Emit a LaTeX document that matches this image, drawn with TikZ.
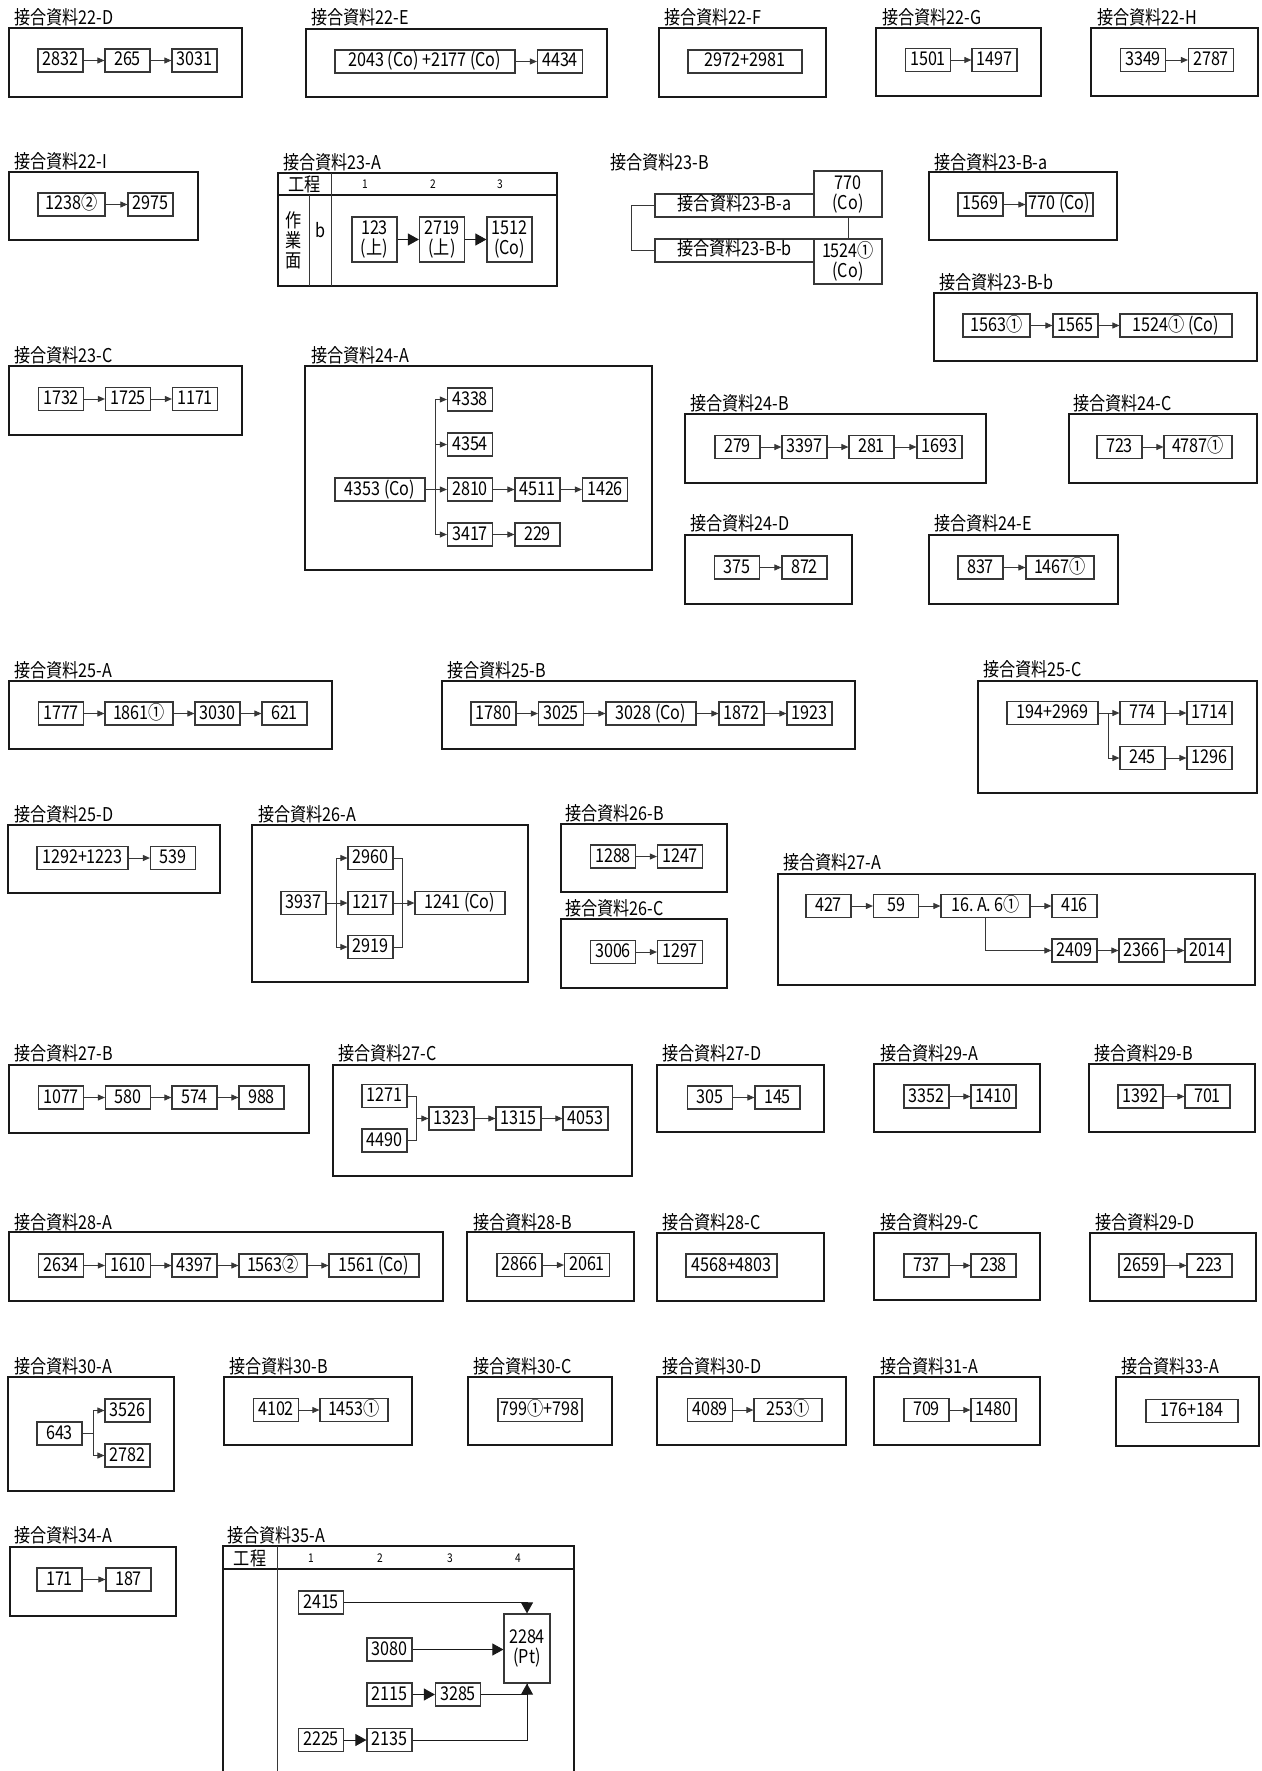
\documentclass[tikz,border=0pt]{standalone}
\usepackage{fontspec}
\setmainfont{Noto Sans CJK JP}[FakeStretch=0.85]
\usepackage{tikz}
\usetikzlibrary{arrows.meta}
\definecolor{ink}{RGB}{25,25,25}
\definecolor{boxline}{RGB}{55,55,55}
\newcommand{\jpfont}{\fontsize{19}{20}\selectfont}
\newcommand{\hdfont}{\fontsize{12}{13}\selectfont}
\tikzset{
  frame/.style={draw=ink, line width=2pt},
  numbox/.style={rectangle, draw=boxline, line width=1.2pt,
    minimum width=45pt, minimum height=23pt, inner sep=1pt,
    text height=14pt, text depth=3pt, font=\jpfont},
  tallbox/.style={rectangle, draw=boxline, line width=1.2pt,
    minimum width=45pt, minimum height=45pt, inner sep=1pt,
    align=center, font=\jpfont},
  title/.style={anchor=west, inner sep=0pt, font=\jpfont},
  arrow/.style={-{Triangle[length=7pt,width=6pt]}, line width=0.9pt, color=boxline},
  bigarrow/.style={-{Triangle[length=11pt,width=12pt]}, line width=0.9pt, color=ink},
  line/.style={line width=0.9pt, color=boxline}
}

\begin{document}
\begin{tikzpicture}[x=1pt, y=-1pt]
  \fill[white] (0,0) rectangle (1261,1771);
  \useasboundingbox (0,0) rectangle (1261,1771);

  % 22-D
  \node[title] at (14,17.5) {接合資料22-D};
  \draw[frame] (9,28) rectangle (242,97);
  \node[numbox] (n22d1) at (60.5,60.5) {2832};
  \node[numbox] (n22d2) at (127.5,60.5) {265};
  \node[numbox] (n22d3) at (194.5,60.5) {3031};
  \foreach \a/\b in {n22d1/n22d2, n22d2/n22d3} \draw[arrow] (\a) -- (\b);

  % 22-E
  \node[title] at (311,17.5) {接合資料22-E};
  \draw[frame] (306,29) rectangle (607,97);
  \node[numbox, minimum width=180pt] (n22e1) at (425,61.5) {2043\,(Co)\,+2177\,(Co)};
  \node[numbox] (n22e2) at (560,61.5) {4434};
  \draw[arrow] (n22e1) -- (n22e2);

  % 22-F
  \node[title] at (664,17) {接合資料22-F};
  \draw[frame] (659,28) rectangle (826,97);
  \node[numbox, minimum width=114pt] (n22f1) at (745,61.5) {2972+2981};

  % 22-G
  \node[title] at (882,17) {接合資料22-G};
  \draw[frame] (876,28) rectangle (1041,96);
  \node[numbox] (n22g1) at (928,60) {1501};
  \node[numbox] (n22g2) at (994.5,60) {1497};
  \draw[arrow] (n22g1) -- (n22g2);

  % 22-H
  \node[title] at (1097,17) {接合資料22-H};
  \draw[frame] (1091,28) rectangle (1258,96);
  \node[numbox] (n22h1) at (1143,60) {3349};
  \node[numbox] (n22h2) at (1211,60) {2787};
  \draw[arrow] (n22h1) -- (n22h2);

  % 22-I
  \node[title] at (14,161) {接合資料22-I};
  \draw[frame] (9,172) rectangle (198,240);
  \node[numbox, minimum width=67pt] (n22i1) at (71.5,204.5) {1238②};
  \node[numbox] (n22i2) at (150.5,204.5) {2975};
  \draw[arrow] (n22i1) -- (n22i2);

  % 23-A (table)
  \node[title] at (283,162) {接合資料23-A};
  \draw[frame] (278,173) rectangle (557,286);
  \draw[frame] (278,195) -- (557,195);
  \draw[line] (331,173) -- (331,286);
  \draw[line] (309,195) -- (309,286);
  \node[font=\jpfont, inner sep=0pt] (h23a) at (304.5,184) {工程};
  \foreach \i/\x in {1/365, 2/433, 3/500}
    \node[font=\hdfont, inner sep=0pt] (h23a\i) at (\x,184) {\i};
  \node[font=\fontsize{19}{20}\selectfont, align=center, inner sep=0pt] (s23a) at (294,240) {作\\業\\面};
  \node[font=\jpfont, inner sep=0pt] (b23a) at (320,230) {b};
  \node[tallbox] (n23a1) at (374.5,239.5) {123\\(上)};
  \node[tallbox] (n23a2) at (442,239.5) {2719\\(上)};
  \node[tallbox] (n23a3) at (509.5,239.5) {1512\\(Co)};
  \foreach \a/\b in {n23a1/n23a2, n23a2/n23a3} \draw[bigarrow] (\a) -- (\b);

  % 23-B
  \node[title] at (610,162) {接合資料23-B};
  \node[tallbox, minimum width=68pt, minimum height=46pt] (n23b0) at (848,194) {770\\(Co)};
  \node[numbox, minimum width=159pt] (n23ba) at (734.5,205.5) {接合資料23-B-a};
  \node[numbox, minimum width=159pt] (n23bb) at (734.5,250.5) {接合資料23-B-b};
  \node[tallbox, minimum width=68pt] (n23b1) at (848,261.5) {1524①\\(Co)};
  \draw[line] (n23b0) -- (n23b1);
  \draw[line] (n23ba.west) -- ++(-23,0) |- (n23bb.west);

  % 23-B-a
  \node[title] at (934,162) {接合資料23-B-a};
  \draw[frame] (929,172) rectangle (1117,240);
  \node[numbox] (n23ba1) at (980.5,204.5) {1569};
  \node[numbox, minimum width=67pt] (n23ba2) at (1059.5,204.5) {770\,(Co)};
  \draw[arrow] (n23ba1) -- (n23ba2);

  % 23-B-b
  \node[title] at (939,282) {接合資料23-B-b};
  \draw[frame] (934,293) rectangle (1257,361);
  \node[numbox, minimum width=67pt] (n23bb1) at (996.5,325.5) {1563①};
  \node[numbox] (n23bb2) at (1075.5,325.5) {1565};
  \node[numbox, minimum width=112pt] (n23bb3) at (1176,325.5) {1524①\,(Co)};
  \foreach \a/\b in {n23bb1/n23bb2, n23bb2/n23bb3} \draw[arrow] (\a) -- (\b);

  % 23-C
  \node[title] at (14,355) {接合資料23-C};
  \draw[frame] (9,366) rectangle (242,435);
  \node[numbox] (n23c1) at (61,399) {1732};
  \node[numbox] (n23c2) at (128,399) {1725};
  \node[numbox] (n23c3) at (195,399) {1171};
  \foreach \a/\b in {n23c1/n23c2, n23c2/n23c3} \draw[arrow] (\a) -- (\b);

  % 24-A
  \node[title] at (311,355) {接合資料24-A};
  \draw[frame] (305,366) rectangle (652,570);
  \node[numbox, minimum width=90pt] (n24a0) at (380,489.5) {4353\,(Co)};
  \node[numbox] (n24a1) at (470,399.5) {4338};
  \node[numbox] (n24a2) at (470,444.5) {4354};
  \node[numbox] (n24a3) at (470,489.5) {2810};
  \node[numbox] (n24a4) at (537.5,489.5) {4511};
  \node[numbox] (n24a5) at (605,489.5) {1426};
  \node[numbox] (n24a6) at (470,534.5) {3417};
  \node[numbox] (n24a7) at (537.5,534.5) {229};
  \coordinate (j24a) at (435,489.5);
  \draw[line] (n24a0) -- (j24a);
  \foreach \t in {n24a1, n24a2, n24a3, n24a6} \draw[arrow] (j24a) |- (\t);
  \foreach \a/\b in {n24a3/n24a4, n24a4/n24a5, n24a6/n24a7} \draw[arrow] (\a) -- (\b);

  % 24-B
  \node[title] at (690,403) {接合資料24-B};
  \draw[frame] (685,414) rectangle (986,483);
  \node[numbox] (n24b1) at (737.5,447) {279};
  \node[numbox] (n24b2) at (804.5,447) {3397};
  \node[numbox] (n24b3) at (871.5,447) {281};
  \node[numbox] (n24b4) at (939.5,447) {1693};
  \foreach \a/\b in {n24b1/n24b2, n24b2/n24b3, n24b3/n24b4} \draw[arrow] (\a) -- (\b);

  % 24-C
  \node[title] at (1073,403) {接合資料24-C};
  \draw[frame] (1069,414) rectangle (1257,483);
  \node[numbox] (n24c1) at (1119.5,447) {723};
  \node[numbox, minimum width=68pt] (n24c2) at (1198,447) {4787①};
  \draw[arrow] (n24c1) -- (n24c2);

  % 24-D
  \node[title] at (690,523) {接合資料24-D};
  \draw[frame] (685,535) rectangle (852,604);
  \node[numbox] (n24d1) at (737,567.5) {375};
  \node[numbox] (n24d2) at (804.5,567.5) {872};
  \draw[arrow] (n24d1) -- (n24d2);

  % 24-E
  \node[title] at (934,523) {接合資料24-E};
  \draw[frame] (929,535) rectangle (1118,604);
  \node[numbox] (n24e1) at (980.5,567.5) {837};
  \node[numbox, minimum width=68pt] (n24e2) at (1060,567.5) {1467①};
  \draw[arrow] (n24e1) -- (n24e2);

  % 25-A
  \node[title] at (14,670) {接合資料25-A};
  \draw[frame] (9,681) rectangle (332,749);
  \node[numbox] (n25a1) at (61,713.5) {1777};
  \node[numbox, minimum width=68pt] (n25a2) at (139,713.5) {1861①};
  \node[numbox] (n25a3) at (217.5,713.5) {3030};
  \node[numbox] (n25a4) at (284.5,713.5) {621};
  \foreach \a/\b in {n25a1/n25a2, n25a2/n25a3, n25a3/n25a4} \draw[arrow] (\a) -- (\b);

  % 25-B
  \node[title] at (447,670) {接合資料25-B};
  \draw[frame] (442,681) rectangle (855,749);
  \node[numbox] (n25b1) at (493.5,713.5) {1780};
  \node[numbox] (n25b2) at (561,713.5) {3025};
  \node[numbox, minimum width=90pt] (n25b3) at (651,713.5) {3028\,(Co)};
  \node[numbox] (n25b4) at (741.5,713.5) {1872};
  \node[numbox] (n25b5) at (809.5,713.5) {1923};
  \foreach \a/\b in {n25b1/n25b2, n25b2/n25b3, n25b3/n25b4, n25b4/n25b5} \draw[arrow] (\a) -- (\b);

  % 25-C
  \node[title] at (983,669) {接合資料25-C};
  \draw[frame] (978,681) rectangle (1257,793);
  \node[numbox, minimum width=91pt] (n25c0) at (1052.5,713) {194+2969};
  \node[numbox] (n25c1) at (1142.5,713) {774};
  \node[numbox] (n25c2) at (1209.5,713) {1714};
  \node[numbox] (n25c3) at (1142.5,758) {245};
  \node[numbox] (n25c4) at (1209.5,758) {1296};
  \coordinate (j25c) at (1108,713);
  \foreach \a/\b in {n25c0/n25c1, n25c1/n25c2, n25c3/n25c4} \draw[arrow] (\a) -- (\b);
  \draw[arrow] (j25c) |- (n25c3);

  % 25-D
  \node[title] at (14,814) {接合資料25-D};
  \draw[frame] (8,825) rectangle (220,893);
  \node[numbox, minimum width=91pt] (n25d1) at (82.5,858) {1292+1223};
  \node[numbox] (n25d2) at (173,858) {539};
  \draw[arrow] (n25d1) -- (n25d2);

  % 26-A
  \node[title] at (258,814) {接合資料26-A};
  \draw[frame] (252,825) rectangle (528,982);
  \node[numbox] (n26a0) at (303.5,903) {3937};
  \node[numbox] (n26a1) at (370.5,858) {2960};
  \node[numbox] (n26a2) at (370.5,903) {1217};
  \node[numbox] (n26a3) at (370.5,947) {2919};
  \node[numbox, minimum width=90pt] (n26a4) at (460,903) {1241\,(Co)};
  \coordinate (j26a) at (336,903);
  \coordinate (m26a) at (402,903);
  \draw[line] (n26a0) -- (j26a);
  \foreach \t in {n26a1, n26a2, n26a3} \draw[arrow] (j26a) |- (\t);
  \draw[line] (n26a1) -| (m26a);
  \draw[line] (n26a3) -| (m26a);
  \draw[arrow] (n26a2) -- (n26a4);

  % 26-B
  \node[title] at (565,813) {接合資料26-B};
  \draw[frame] (561,824) rectangle (727,892);
  \node[numbox] (n26b1) at (613,856.5) {1288};
  \node[numbox] (n26b2) at (680,856.5) {1247};
  \draw[arrow] (n26b1) -- (n26b2);

  % 26-C
  \node[title] at (565,908) {接合資料26-C};
  \draw[frame] (561,919) rectangle (727,988);
  \node[numbox] (n26c1) at (613,952) {3006};
  \node[numbox] (n26c2) at (680,952) {1297};
  \draw[arrow] (n26c1) -- (n26c2);

  % 27-A
  \node[title] at (783,862) {接合資料27-A};
  \draw[frame] (778,874) rectangle (1255,985);
  \node[numbox] (n27a0) at (828.5,906) {427};
  \node[numbox] (n27a1) at (896,906) {59};
  \node[numbox, minimum width=89pt] (n27a2) at (985.5,906) {16.\,A.\,6①};
  \node[numbox] (n27a3) at (1074.5,906) {416};
  \node[numbox] (n27a4) at (1074.5,950.5) {2409};
  \node[numbox] (n27a5) at (1141.5,950.5) {2366};
  \node[numbox] (n27a6) at (1207.5,950.5) {2014};
  \foreach \a/\b in {n27a0/n27a1, n27a1/n27a2, n27a2/n27a3, n27a4/n27a5, n27a5/n27a6} \draw[arrow] (\a) -- (\b);
  \draw[arrow] (n27a2.south) |- (n27a4);

  % 27-B
  \node[title] at (14,1053) {接合資料27-B};
  \draw[frame] (9,1065) rectangle (309,1133);
  \node[numbox] (n27b1) at (61,1097.5) {1077};
  \node[numbox] (n27b2) at (128,1097.5) {580};
  \node[numbox] (n27b3) at (194.5,1097.5) {574};
  \node[numbox] (n27b4) at (261.5,1097.5) {988};
  \foreach \a/\b in {n27b1/n27b2, n27b2/n27b3, n27b3/n27b4} \draw[arrow] (\a) -- (\b);

  % 27-C
  \node[title] at (338,1053) {接合資料27-C};
  \draw[frame] (333,1065) rectangle (632,1176);
  \node[numbox] (n27c1) at (384.5,1096) {1271};
  \node[numbox] (n27c2) at (384.5,1140.5) {4490};
  \node[numbox] (n27c3) at (451.5,1118.5) {1323};
  \node[numbox] (n27c4) at (518.5,1118.5) {1315};
  \node[numbox] (n27c5) at (585.5,1118.5) {4053};
  \coordinate (m27c) at (416,1118.5);
  \draw[line] (n27c1) -| (m27c);
  \draw[line] (n27c2) -| (m27c);
  \draw[arrow] (m27c) -- (n27c3);
  \foreach \a/\b in {n27c3/n27c4, n27c4/n27c5} \draw[arrow] (\a) -- (\b);

  % 27-D
  \node[title] at (662,1053) {接合資料27-D};
  \draw[frame] (657,1065) rectangle (824,1132);
  \node[numbox] (n27d1) at (710,1097.5) {305};
  \node[numbox] (n27d2) at (777.5,1097.5) {145};
  \draw[arrow] (n27d1) -- (n27d2);

  % 29-A
  \node[title] at (880,1053) {接合資料29-A};
  \draw[frame] (874,1064) rectangle (1040,1132);
  \node[numbox] (n29a1) at (926.5,1096.5) {3352};
  \node[numbox] (n29a2) at (993.5,1096.5) {1410};
  \draw[arrow] (n29a1) -- (n29a2);

  % 29-B
  \node[title] at (1094,1053) {接合資料29-B};
  \draw[frame] (1089,1064) rectangle (1255,1132);
  \node[numbox] (n29b1) at (1140.5,1096.5) {1392};
  \node[numbox] (n29b2) at (1207.5,1096.5) {701};
  \draw[arrow] (n29b1) -- (n29b2);

  % 28-A
  \node[title] at (14,1222) {接合資料28-A};
  \draw[frame] (9,1232) rectangle (443,1301);
  \node[numbox] (n28a1) at (61,1265.5) {2634};
  \node[numbox] (n28a2) at (128,1265.5) {1610};
  \node[numbox] (n28a3) at (194.5,1265.5) {4397};
  \node[numbox, minimum width=68pt] (n28a4) at (273,1265.5) {1563②};
  \node[numbox, minimum width=90pt] (n28a5) at (374,1265.5) {1561\,(Co)};
  \foreach \a/\b in {n28a1/n28a2, n28a2/n28a3, n28a3/n28a4, n28a4/n28a5} \draw[arrow] (\a) -- (\b);

  % 28-B
  \node[title] at (473,1222) {接合資料28-B};
  \draw[frame] (467,1232) rectangle (634,1301);
  \node[numbox] (n28b1) at (519.5,1265) {2866};
  \node[numbox] (n28b2) at (587,1265) {2061};
  \draw[arrow] (n28b1) -- (n28b2);

  % 28-C
  \node[title] at (662,1222) {接合資料28-C};
  \draw[frame] (657,1233) rectangle (824,1301);
  \node[numbox, minimum width=91pt] (n28c1) at (731.5,1265.5) {4568+4803};

  % 29-C
  \node[title] at (880,1222) {接合資料29-C};
  \draw[frame] (874,1233) rectangle (1040,1300);
  \node[numbox] (n29c1) at (926.5,1265.5) {737};
  \node[numbox] (n29c2) at (993.5,1265.5) {238};
  \draw[arrow] (n29c1) -- (n29c2);

  % 29-D
  \node[title] at (1095,1222) {接合資料29-D};
  \draw[frame] (1090,1233) rectangle (1256,1301);
  \node[numbox] (n29d1) at (1141.5,1265.5) {2659};
  \node[numbox] (n29d2) at (1209.5,1265.5) {223};
  \draw[arrow] (n29d1) -- (n29d2);

  % 30-A
  \node[title] at (14,1366) {接合資料30-A};
  \draw[frame] (8,1377) rectangle (174,1491);
  \node[numbox] (n30a0) at (59.5,1433.5) {643};
  \node[numbox] (n30a1) at (127.5,1410.5) {3526};
  \node[numbox] (n30a2) at (127.5,1455.5) {2782};
  \coordinate (j30a) at (93,1433.5);
  \draw[line] (n30a0) -- (j30a);
  \foreach \t in {n30a1, n30a2} \draw[arrow] (j30a) |- (\t);

  % 30-B
  \node[title] at (229,1366) {接合資料30-B};
  \draw[frame] (224,1377) rectangle (412,1445);
  \node[numbox] (n30b1) at (276,1410) {4102};
  \node[numbox, minimum width=68pt] (n30b2) at (354,1410) {1453①};
  \draw[arrow] (n30b1) -- (n30b2);

  % 30-C
  \node[title] at (473,1366) {接合資料30-C};
  \draw[frame] (468,1377) rectangle (612,1445);
  \node[numbox, minimum width=84pt] (n30c1) at (540,1410) {799①+798};

  % 30-D
  \node[title] at (662,1366) {接合資料30-D};
  \draw[frame] (657,1377) rectangle (846,1445);
  \node[numbox] (n30d1) at (710,1410) {4089};
  \node[numbox, minimum width=68pt] (n30d2) at (788,1410) {253①};
  \draw[arrow] (n30d1) -- (n30d2);

  % 31-A
  \node[title] at (880,1366) {接合資料31-A};
  \draw[frame] (874,1377) rectangle (1040,1445);
  \node[numbox] (n31a1) at (926.5,1410) {709};
  \node[numbox] (n31a2) at (993.5,1410) {1480};
  \draw[arrow] (n31a1) -- (n31a2);

  % 33-A
  \node[title] at (1121,1366) {接合資料33-A};
  \draw[frame] (1116,1377) rectangle (1259,1446);
  \node[numbox, minimum width=92pt] (n33a1) at (1192,1411) {176+184};

  % 34-A
  \node[title] at (14,1535) {接合資料34-A};
  \draw[frame] (10,1547) rectangle (176,1616);
  \node[numbox] (n34a1) at (59.5,1579.5) {171};
  \node[numbox] (n34a2) at (128.5,1579.5) {187};
  \draw[arrow] (n34a1) -- (n34a2);

  % 35-A (table)
  \node[title] at (227,1535) {接合資料35-A};
  \draw[frame] (223,1771) |- (574,1546) -- (574,1771);
  \draw[frame] (223,1569) -- (574,1569);
  \draw[line] (277,1546) -- (277,1771);
  \node[font=\jpfont, inner sep=0pt] (h35a) at (250,1558) {工程};
  \foreach \i/\x in {1/311, 2/380, 3/450, 4/518}
    \node[font=\hdfont, inner sep=0pt] (h35a\i) at (\x,1558) {\i};
  \node[tallbox, minimum width=46pt, minimum height=69pt] (n35a0) at (527,1648.5) {2284\\(Pt)};
  \node[numbox] (n35a1) at (321,1602.5) {2415};
  \node[numbox] (n35a2) at (389.5,1649.5) {3080};
  \node[numbox] (n35a3) at (389.5,1694.5) {2115};
  \node[numbox] (n35a4) at (458,1694.5) {3285};
  \node[numbox] (n35a5) at (321,1740) {2225};
  \node[numbox] (n35a6) at (389.5,1740) {2135};
  \draw[bigarrow] (n35a1) -| (n35a0);
  \draw[bigarrow] (n35a2.east) -- (n35a2.east -| n35a0.west);
  \draw[bigarrow] (n35a3) -- (n35a4);
  \draw[line, color=ink] (n35a4) -| (n35a0);
  \draw[bigarrow] (n35a5) -- (n35a6);
  \draw[bigarrow] (n35a6) -| (n35a0);
\end{tikzpicture}
\end{document}
